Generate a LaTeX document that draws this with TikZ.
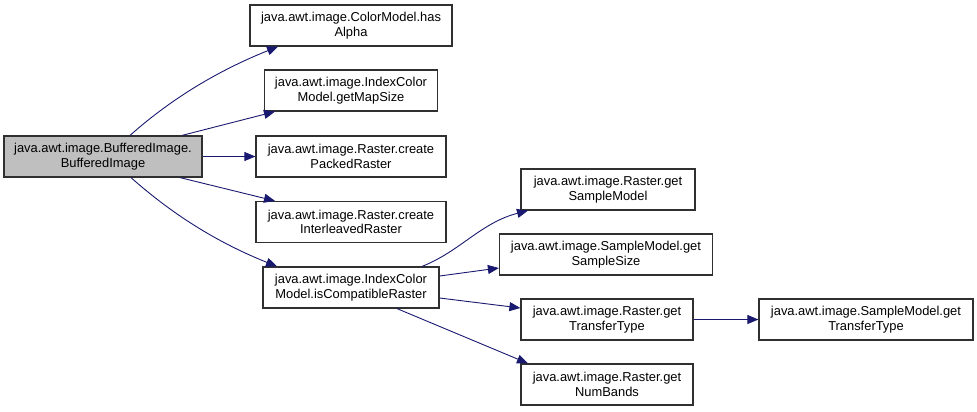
\documentclass[tikz,border=0pt]{standalone}
\usepackage{fontspec}
\setmainfont{Liberation Sans}
\usetikzlibrary{arrows.meta,calc}
\definecolor{edgeblue}{HTML}{191970}
\definecolor{nodegray}{HTML}{BFBFBF}
\definecolor{boxline}{HTML}{303030}
\begin{document}
\begin{tikzpicture}[x=1bp,y=-1bp,
  fn/.style={draw=boxline,line width=1.2bp,fill=white,rectangle,inner sep=0pt,
    minimum height=41bp,align=center,
    font=\fontsize{12.9bp}{14.5bp}\selectfont},
  cur/.style={fn,fill=nodegray},
  call/.style={draw=edgeblue,line width=0.9bp,-{Triangle[length=11bp,width=9bp]}}]
\useasboundingbox (0,0) rectangle (977,411);
\node[cur,minimum width=198bp] (bi) at (103,156.5) {java.awt.image.BufferedImage.\\BufferedImage};
\node[fn,minimum width=202bp] (ha) at (351,25.5) {java.awt.image.ColorModel.has\\Alpha};
\node[fn,minimum width=173bp] (ms) at (351,90.5) {java.awt.image.IndexColor\\Model.getMapSize};
\node[fn,minimum width=190bp] (cp) at (351,156.5) {java.awt.image.Raster.create\\PackedRaster};
\node[fn,minimum width=190bp] (ci) at (351,222) {java.awt.image.Raster.create\\InterleavedRaster};
\node[fn,minimum width=176bp] (ic) at (351,287.5) {java.awt.image.IndexColor\\Model.isCompatibleRaster};
\node[fn,minimum width=174bp] (sm) at (608,189.5) {java.awt.image.Raster.get\\SampleModel};
\node[fn,minimum width=213bp] (ss) at (606,254.5) {java.awt.image.SampleModel.get\\SampleSize};
\node[fn,minimum width=172bp] (gt) at (607,319.5) {java.awt.image.Raster.get\\TransferType};
\node[fn,minimum width=172bp] (nb) at (607,384.5) {java.awt.image.Raster.get\\NumBands};
\node[fn,minimum width=214bp] (st) at (866,319.5) {java.awt.image.SampleModel.get\\TransferType};

\draw[call] ([xshift=27bp]bi.north) .. controls +(45,-40) and +(-55,22) .. ([xshift=-73bp]ha.south);
\draw[call] ([xshift=79bp]bi.north) -- ([xshift=-76bp]ms.south);
\draw[call] (bi.east) -- (cp.west);
\draw[call] ([xshift=77bp]bi.south) -- ([xshift=-76bp]ci.north);
\draw[call] ([xshift=28bp]bi.south) .. controls +(45,40) and +(-55,-22) .. ([xshift=-74bp]ic.north);
\draw[call] ([xshift=71bp]ic.north) .. controls +(38,-15) and +(-47,12) .. ([xshift=-80bp]sm.south);
\draw[call] ([yshift=11.5bp]ic.east) -- ([yshift=-13.5bp]ss.west);
\draw[call] ([yshift=-10.5bp]ic.east) -- ([yshift=11.5bp]gt.west);
\draw[call] ([xshift=46bp]ic.south) -- ([xshift=-79bp]nb.north);
\draw[call] (gt.east) -- (st.west);
\end{tikzpicture}
\end{document}
